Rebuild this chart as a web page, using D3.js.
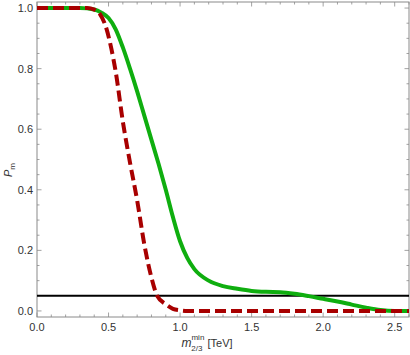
<!DOCTYPE html>
<html>
<head>
<meta charset="utf-8">
<script src="https://cdn.jsdelivr.net/npm/d3@7"></script>
<style>
  body { margin: 0; background: #fff; }
  text { font-family: "Liberation Sans", Arial, sans-serif; }
</style>
</head>
<body>
<div id="chart"></div>
<script>
// data
const greenX = [0, 0.3, 0.4, 0.45, 0.5, 0.55, 0.6, 0.65, 0.7, 0.75, 0.8, 0.85, 0.9, 0.95, 1.0, 1.05, 1.1, 1.2, 1.3, 1.4, 1.5, 1.6, 1.7, 1.8, 1.9, 2.0, 2.1, 2.2, 2.3, 2.4, 2.5, 2.6]
const greenP = [1, 1, 0.995, 0.985, 0.967, 0.93, 0.87, 0.8, 0.725, 0.645, 0.565, 0.485, 0.4, 0.31, 0.23, 0.175, 0.138, 0.1, 0.082, 0.073, 0.066, 0.063, 0.062, 0.057, 0.049, 0.04, 0.031, 0.021, 0.011, 0.003, 0, 0]
const redX = [0, 0.35, 0.4, 0.44, 0.48, 0.52, 0.55, 0.6, 0.65, 0.7, 0.75, 0.8, 0.84, 0.9, 0.95, 1.0, 1.05, 1.5, 2.0, 2.6]
const redP = [1, 1, 0.995, 0.98, 0.94, 0.865, 0.79, 0.625, 0.49, 0.365, 0.22, 0.11, 0.05, 0.022, 0.007, 0.002, 0, 0, 0, 0]
const cutLevel = 0.05
const xTicks = [0, 0.5, 1.0, 1.5, 2.0, 2.5]
const yTicks = [0, 0.2, 0.4, 0.6, 0.8, 1.0]

const w = 410
const h = 355
const m = {l: 37, r: 1, t: 2, b: 38}

const svg = d3.select('#chart').append('svg')
  .attr('width', w)
  .attr('height', h)

const x = d3.scaleLinear().domain([0, 2.6]).range([m.l, w - m.r])
const y = d3.scaleLinear().domain([-0.02, 1.02]).range([h - m.b, m.t])

const frameColor = '#8a8a8a'
const x0 = x.range()[0], x1 = x.range()[1]
const y0 = y.range()[0], y1 = y.range()[1]

// ticks (inward, all four sides)
const xMinor = d3.range(0, 2.61, 0.1)
const yMinor = d3.range(0, 1.001, 0.05)
const tk = svg.append('g').attr('stroke', frameColor).attr('stroke-width', 0.8)
xMinor.forEach(v => {
  const major = xTicks.some(t => Math.abs(t - v) < 1e-6)
  const len = major ? 4.5 : 2.5
  tk.append('line').attr('x1', x(v)).attr('x2', x(v)).attr('y1', y0).attr('y2', y0 - len)
  tk.append('line').attr('x1', x(v)).attr('x2', x(v)).attr('y1', y1).attr('y2', y1 + len)
})
yMinor.forEach(v => {
  const major = yTicks.some(t => Math.abs(t - v) < 1e-6)
  const len = major ? 4.5 : 2.5
  tk.append('line').attr('y1', y(v)).attr('y2', y(v)).attr('x1', x0).attr('x2', x0 + len)
  tk.append('line').attr('y1', y(v)).attr('y2', y(v)).attr('x1', x1).attr('x2', x1 - len)
})

// frame
svg.append('rect')
  .attr('x', x0).attr('y', y1)
  .attr('width', x1 - x0).attr('height', y0 - y1)
  .attr('fill', 'none').attr('stroke', frameColor).attr('stroke-width', 1)

// tick labels
svg.append('g').selectAll('text')
  .data(xTicks).enter().append('text')
  .attr('x', d => x(d)).attr('y', y0 + 14)
  .attr('text-anchor', 'middle')
  .attr('font-size', 11).attr('fill', '#333')
  .text(d => d.toFixed(1))
svg.append('g').selectAll('text')
  .data(yTicks).enter().append('text')
  .attr('x', x0 - 4).attr('y', d => y(d) + 4)
  .attr('text-anchor', 'end')
  .attr('font-size', 11).attr('fill', '#333')
  .text(d => d.toFixed(1))

// curves
const line = d3.line().x(d => x(d[0])).y(d => y(d[1])).curve(d3.curveMonotoneX)
const clip = svg.append('clipPath').attr('id', 'clip').append('rect')
  .attr('x', x0).attr('y', y1).attr('width', x1 - x0).attr('height', y0 - y1)

svg.append('line')
  .attr('x1', x0).attr('x2', x1)
  .attr('y1', y(cutLevel)).attr('y2', y(cutLevel))
  .attr('stroke', '#000').attr('stroke-width', 2)

svg.append('path')
  .attr('clip-path', 'url(#clip)')
  .attr('d', line(greenX.map((v, i) => [v, greenP[i]])))
  .attr('fill', 'none').attr('stroke', '#0fae0f').attr('stroke-width', 4)

svg.append('path')
  .attr('clip-path', 'url(#clip)')
  .attr('d', line(redX.map((v, i) => [v, redP[i]])))
  .attr('fill', 'none').attr('stroke', '#a80000').attr('stroke-width', 4)
  .attr('stroke-dasharray', '11,5')

// axis labels
const xl = svg.append('text')
  .attr('x', 207).attr('y', 347)
  .attr('text-anchor', 'middle')
  .attr('font-size', 11).attr('fill', '#333')
xl.append('tspan').attr('font-style', 'italic').attr('font-size', 12).text('m')
xl.append('tspan').attr('font-size', 8).attr('dy', -7).text('min')
xl.append('tspan').attr('font-size', 8).attr('dx', -13).attr('dy', 11).text('2/3')
xl.append('tspan').attr('dx', 5).attr('dy', -4).text('[TeV]')

const yl = svg.append('text')
  .attr('transform', 'translate(12,' + 170 + ') rotate(-90)')
  .attr('text-anchor', 'middle')
  .attr('font-size', 11).attr('fill', '#333')
yl.append('tspan').attr('font-style', 'italic').text('P')
yl.append('tspan').attr('font-size', 8).attr('dy', 3).text('m')
</script>
</body>
</html>
